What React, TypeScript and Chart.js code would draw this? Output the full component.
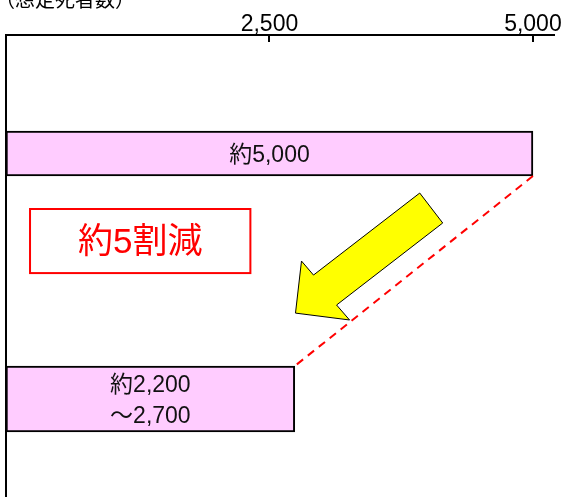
import React, { useEffect, useRef } from 'react';
import { Chart, registerables } from 'chart.js';

Chart.register(...registerables);

// ---- data ----
const categories = ['現状', '対策後'];
const barValues = [5000, 2740];
const barTexts = [['約5,000'], ['約2,200', '～2,700']];
const tickValues = [2500, 5000];
const axisTitle = '（想定死者数）';
const reductionText = '約5割減';

// annotation anchors in data units (x: value, y: category index)
const boxCorners = [
  [228, 0.226],
  [2319, 0.487],
];
const arrowPoints = [
  [3926, 0.161],
  [4144, 0.283],
  [3137, 0.617],
  [3260, 0.678],
  [2747, 0.65],
  [2804, 0.438],
  [2918, 0.495],
];

const FONT = '"Liberation Sans", "Noto Sans CJK JP", sans-serif';
const CJK = '"Noto Sans CJK JP", sans-serif';
const barThicknesses = [45, 66];
const Y_MIN = -0.4827;
const Y_MAX = 1.399;

const overlay = {
  id: 'overlay',
  afterDatasetsDraw(chart: any) {
    const ctx = chart.ctx;
    const xs = chart.scales.x;
    const ys = chart.scales.y;
    const area = chart.chartArea;
    ctx.save();

    // inward tick marks
    ctx.strokeStyle = '#000';
    ctx.lineWidth = 2;
    tickValues.forEach((v) => {
      const x = Math.round(xs.getPixelForValue(v));
      ctx.beginPath();
      ctx.moveTo(x, area.top);
      ctx.lineTo(x, area.top + 7);
      ctx.stroke();
    });

    // bar labels
    const els = categories.map((_, i) => chart.getDatasetMeta(i).data[i]);
    ctx.fillStyle = '#111';
    ctx.font = `23px ${FONT}`;
    ctx.textAlign = 'center';
    ctx.textBaseline = 'middle';
    els.forEach((el: any, i: number) => {
      const cx = (el.base + el.x) / 2;
      const lines = barTexts[i];
      const lh = 31;
      lines.forEach((t, k) => {
        const y = el.y + (k - (lines.length - 1) / 2) * lh + 2;
        ctx.fillText(t, cx, y);
      });
    });

    // dashed connector
    const a = els[0] as any;
    const b = els[1] as any;
    ctx.strokeStyle = '#FF0000';
    ctx.lineWidth = 2;
    ctx.setLineDash([8, 6]);
    ctx.beginPath();
    ctx.moveTo(a.x, a.y + a.height / 2);
    ctx.lineTo(b.x, b.y - b.height / 2);
    ctx.stroke();
    ctx.setLineDash([]);

    // arrow
    ctx.beginPath();
    arrowPoints.forEach(([v, t], i) => {
      const px = xs.getPixelForValue(v);
      const py = ys.getPixelForValue(t);
      if (i === 0) ctx.moveTo(px, py);
      else ctx.lineTo(px, py);
    });
    ctx.closePath();
    ctx.fillStyle = '#FFFF00';
    ctx.fill();
    ctx.strokeStyle = '#000';
    ctx.lineWidth = 1;
    ctx.stroke();

    // red box
    const bx1 = xs.getPixelForValue(boxCorners[0][0]);
    const by1 = ys.getPixelForValue(boxCorners[0][1]);
    const bx2 = xs.getPixelForValue(boxCorners[1][0]);
    const by2 = ys.getPixelForValue(boxCorners[1][1]);
    ctx.fillStyle = '#fff';
    ctx.fillRect(bx1, by1, bx2 - bx1, by2 - by1);
    ctx.strokeStyle = '#FF0000';
    ctx.lineWidth = 2;
    ctx.strokeRect(bx1, by1, bx2 - bx1, by2 - by1);
    ctx.fillStyle = '#FF0000';
    ctx.font = `35px ${FONT}`;
    ctx.textAlign = 'center';
    ctx.textBaseline = 'middle';
    ctx.fillText(reductionText, (bx1 + bx2) / 2, (by1 + by2) / 2 + 2);

    // axis title (partially cut at top)
    ctx.fillStyle = '#000';
    ctx.font = `20px ${CJK}`;
    ctx.textAlign = 'left';
    ctx.textBaseline = 'alphabetic';
    ctx.fillText(axisTitle, -5, 7);

    ctx.restore();
  },
};

export default function App() {
  const ref = useRef<HTMLCanvasElement | null>(null);

  useEffect(() => {
    if (!ref.current) return;
    const datasets = categories.map((c, i) => ({
      label: c,
      data: categories.map((_, j) => ({ x: j === i ? barValues[i] : null, y: j })),
      backgroundColor: '#FFCCFF',
      borderColor: '#000',
      borderWidth: 2,
      borderSkipped: false,
      barThickness: barThicknesses[i],
    }));
    const chart = new Chart(ref.current, {
      type: 'bar',
      data: { datasets } as any,
      options: {
        indexAxis: 'y',
        animation: false,
        responsive: false,
        skipNull: true,
        layout: { padding: { left: 6, right: 17, top: 0, bottom: 0 } },
        plugins: { legend: { display: false }, tooltip: { enabled: false } },
        scales: {
          x: {
            type: 'linear',
            position: 'top',
            min: 0,
            max: 5200,
            afterBuildTicks: (s: any) => {
              s.ticks = tickValues.map((v) => ({ value: v }));
            },
            afterFit: (s: any) => {
              s.height = 35;
            },
            ticks: {
              padding: -3,
              color: '#000',
              font: { family: FONT, size: 23 },
              callback: (v: any) => Number(v).toLocaleString('en-US'),
            },
            grid: { display: false, drawTicks: false },
            border: { display: true, color: '#000', width: 2 },
          },
          y: {
            type: 'linear',
            reverse: true,
            bounds: 'data',
            min: Y_MIN,
            max: Y_MAX,
            afterDataLimits: (s: any) => {
              s.min = Y_MIN;
              s.max = Y_MAX;
            },
            afterBuildTicks: (s: any) => {
              s.ticks = [];
              s.min = Y_MIN;
              s.max = Y_MAX;
            },
            afterFit: (s: any) => {
              s.width = 0;
            },
            ticks: { display: false },
            grid: { display: false, drawTicks: false },
            border: { display: true, color: '#000', width: 2 },
          },
        },
      } as any,
      plugins: [overlay],
    });
    return () => chart.destroy();
  }, []);

  return (
    <div style={{ position: 'fixed', left: 0, top: 0, width: 571, height: 497, background: '#fff' }}>
      <canvas ref={ref} width={571} height={497} style={{ display: 'block' }} />
    </div>
  );
}
